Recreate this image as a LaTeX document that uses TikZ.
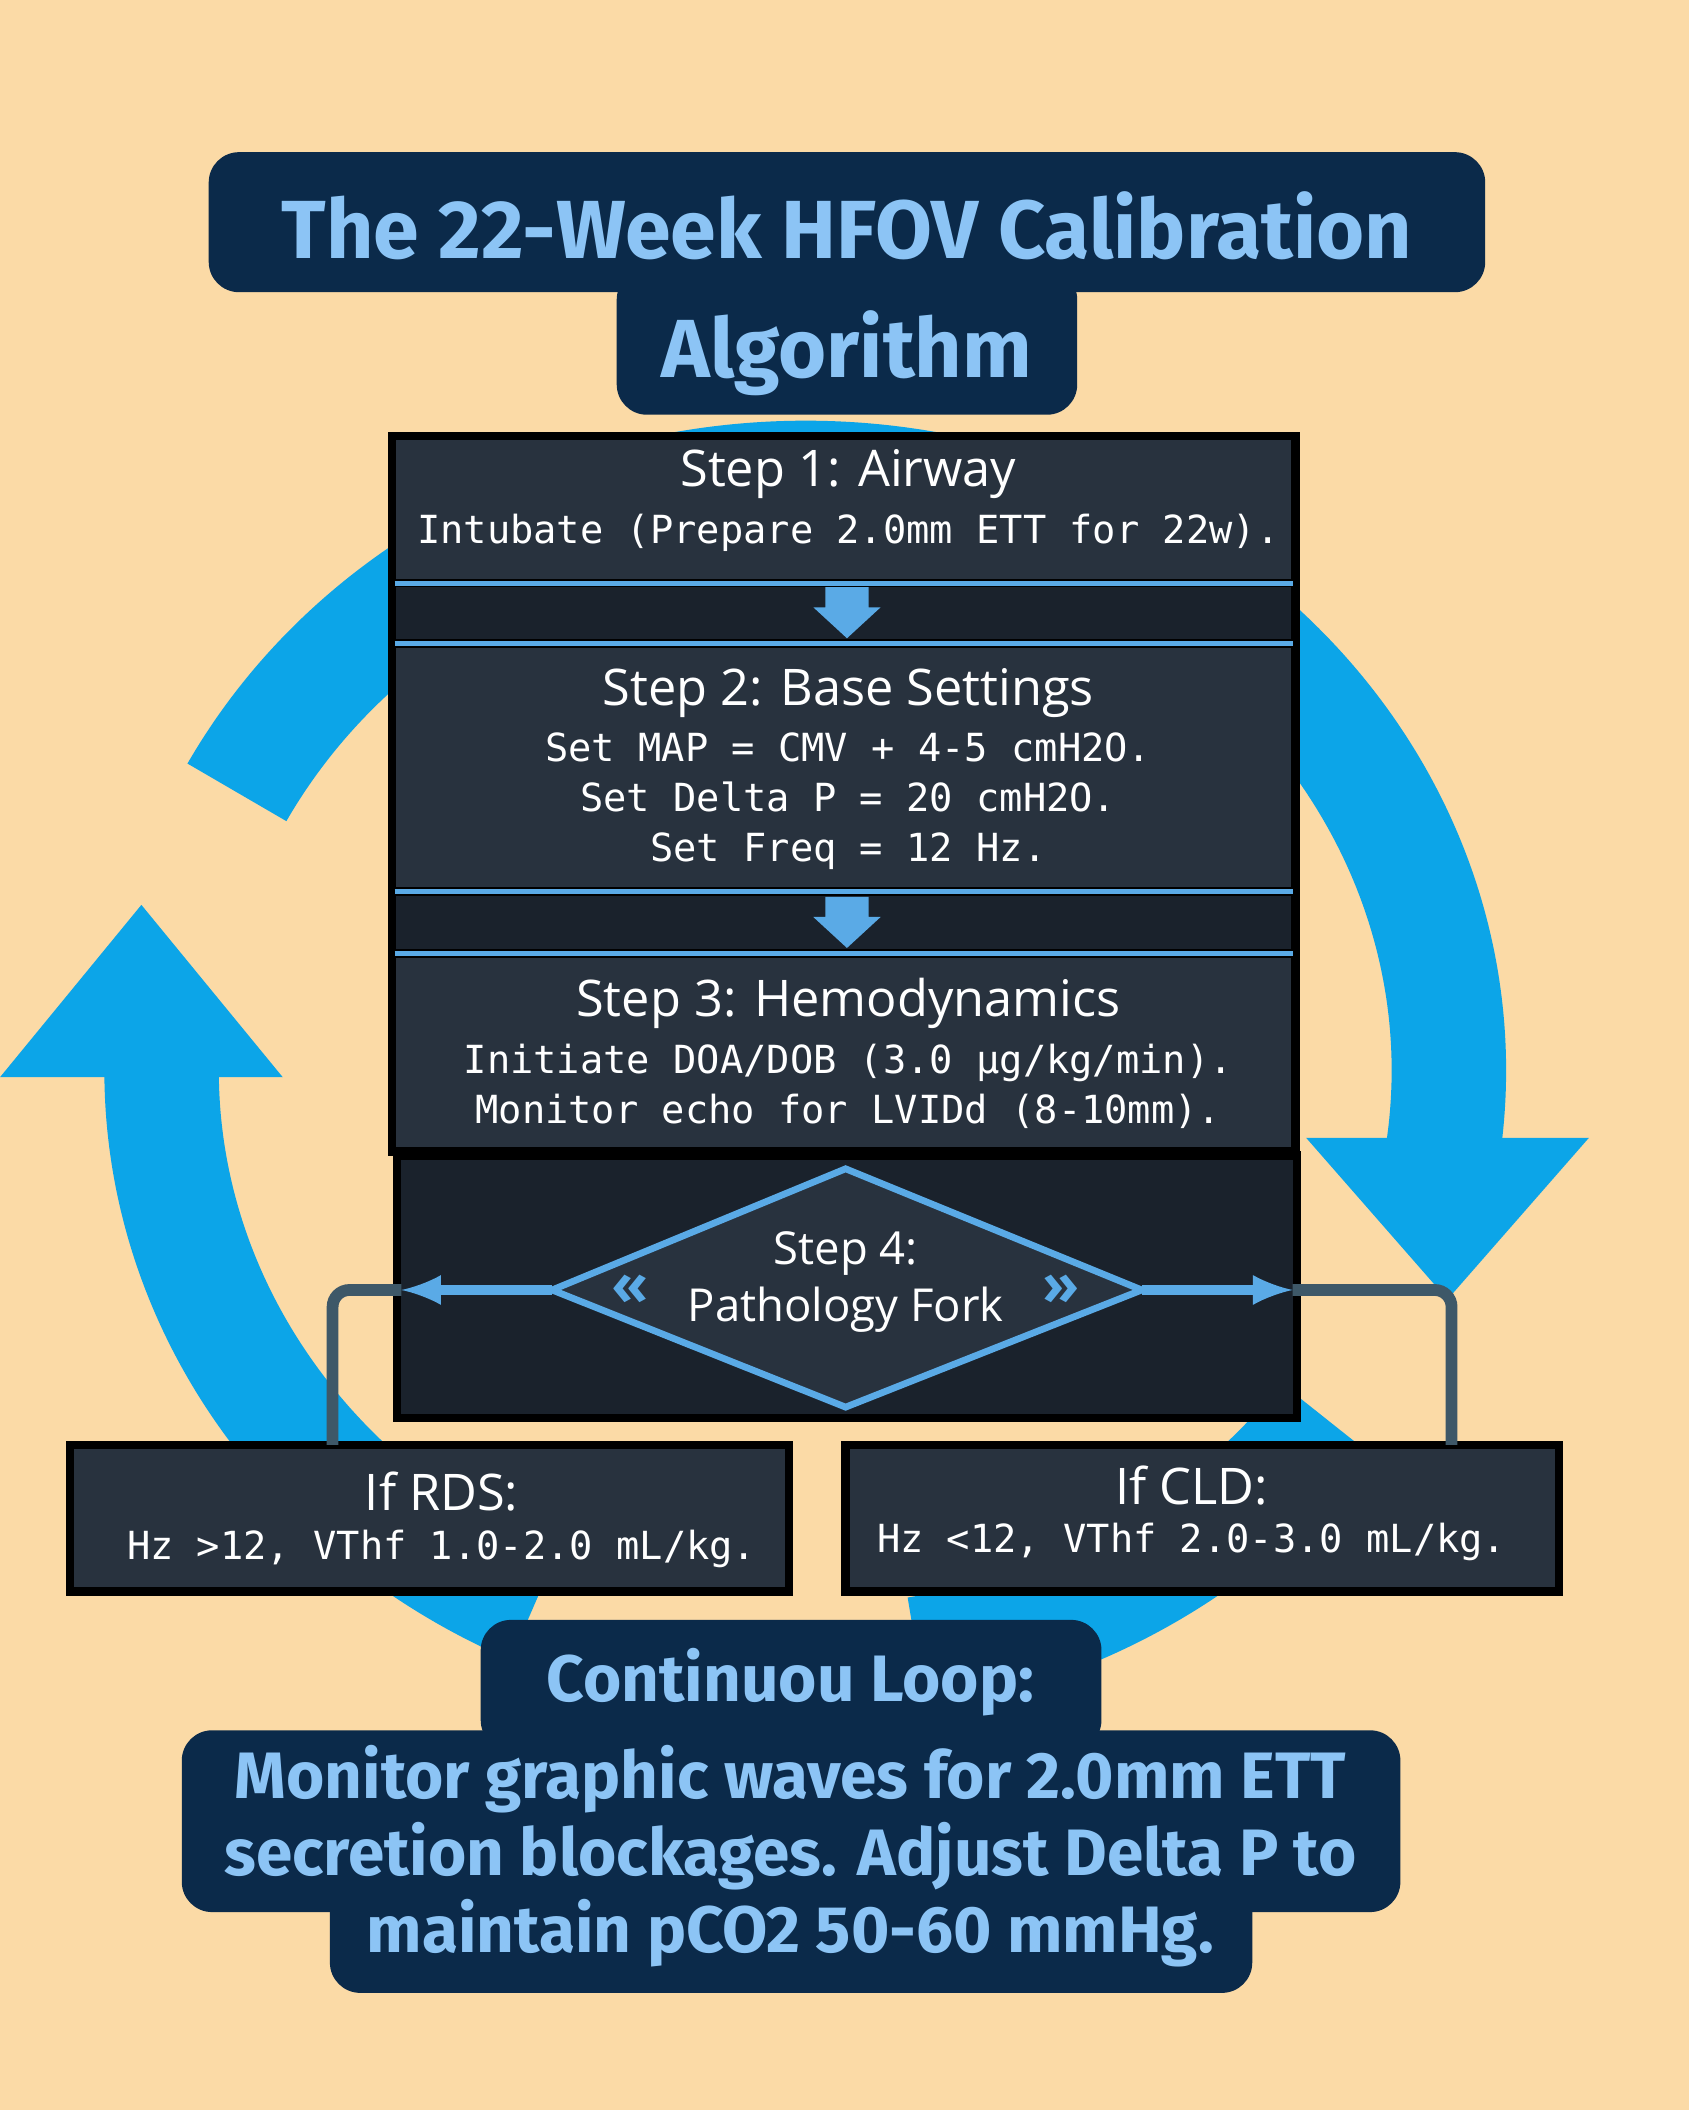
\documentclass[tikz,border=0pt]{standalone}
\usepackage{fontspec}
\setmainfont{Open Sans}
\newfontfamily\titlefont{Fira Sans}
\setmonofont{DejaVu Sans Mono}
\usetikzlibrary{positioning}
\definecolor{peach}{RGB}{251,218,166}
\definecolor{ringblue}{RGB}{12,165,232}
\definecolor{navy}{RGB}{11,42,74}
\definecolor{titleblue}{RGB}{140,196,245}
\definecolor{panel}{RGB}{40,50,62}
\definecolor{band}{RGB}{26,34,44}
\definecolor{edgeblue}{RGB}{90,170,230}
\definecolor{wire}{RGB}{62,88,104}
\tikzset{
  navybox/.style={fill=navy,rounded corners=9pt},
  stepbox/.style={fill=panel,draw=black,line width=2.5},
  head/.style={text=white,font=\fontsize{15}{18}\selectfont},
  body/.style={text=white,font=\ttfamily\fontsize{11.5}{14.8}\selectfont,align=center},
  bigtext/.style={text=titleblue,font=\titlefont\bfseries\fontsize{19.5}{23}\selectfont,align=center},
  ring/.style={ringblue,line width=34}
}
\begin{document}
\begin{tikzpicture}[x=0.4pt,y=0.4pt,yscale=-1]
\useasboundingbox (0,0) rectangle (1254,1567);
\fill[peach] (0,0) rectangle (1254,1567);

% loop ring
\draw[ring] (598,795) ++(208:478 and 440) arc[start angle=208,end angle=368,x radius=478,y radius=440];
\fill[ringblue] (970,845) -- (1180,845) -- (1075,965) -- cycle;
\draw[ring] (598,795) ++(115:478 and 440) arc[start angle=115,end angle=180,x radius=478,y radius=440] -- (120,800);
\fill[ringblue] (0,800) -- (210,800) -- (105,672) -- cycle;
\draw[ring] (598,795) ++(36:478 and 440) arc[start angle=36,end angle=80,x radius=478,y radius=440];

% title
\fill[navybox] (155,113) rectangle (1103,217);
\fill[navybox] (458,200) rectangle (800,308);
\node[text=titleblue,font=\titlefont\bfseries\fontsize{24.5}{29}\selectfont] (title1) at (629,168) {The 22-Week HFOV Calibration};
\node[text=titleblue,font=\titlefont\bfseries\fontsize{24.5}{29}\selectfont] (title2) at (629,262) {Algorithm};

% steps
\fill[band,draw=black,line width=2.5] (291,324) rectangle (962,855);
\draw[stepbox] (291,324) rectangle (962,433);
\draw[stepbox] (291,478) rectangle (962,662);
\draw[stepbox] (291,708) rectangle (962,855);
\foreach \y in {433,478,662,708} \draw[edgeblue,line width=1.5] (293,\y) -- (960,\y);
\foreach \y in {436,666} \fill[edgeblue] (613,\y) -- (645,\y) -- (645,\y+15) -- (654,\y+15) -- (629,\y+38) -- (604,\y+15) -- (613,\y+15) -- cycle;
\node[head] (s1) at (630,352) {Step 1: Airway};
\node[body] (s1b) at (630,396) {Intubate (Prepare 2.0mm ETT for 22w).};
\node[head] (s2) at (630,515) {Step 2: Base Settings};
\node[body] (s2b) at (630,595) {Set MAP = CMV + 4-5 cmH2O.\\Set Delta P = 20 cmH2O.\\Set Freq = 12 Hz.};
\node[head] (s3) at (630,745) {Step 3: Hemodynamics};
\node[body] (s3b) at (630,807) {Initiate DOA/DOB (3.0 \textmu g/kg/min).\\Monitor echo for LVIDd (8-10mm).};

% step 4 fork
\fill[band,draw=black,line width=2.5] (295,858) rectangle (963,1053);
\coordinate (dl) at (410,958);
\coordinate (dr) at (848,958);
\fill[panel,draw=edgeblue,line width=2] (dl) -- (628,868) -- (dr) -- (628,1045) -- cycle;
\node[text=white,font=\fontsize{13.5}{17}\selectfont,align=center] (s4) at (628,952) {Step 4:\\Pathology Fork};
\node[text=edgeblue,font=\bfseries\fontsize{18}{20}\selectfont] at (468,958) {«};
\node[text=edgeblue,font=\bfseries\fontsize{18}{20}\selectfont] at (788,958) {»};
\coordinate (fl) at (298,958);
\coordinate (fr) at (960,958);
\draw[edgeblue,line width=3,-latex] (dl) -- (fl);
\draw[edgeblue,line width=3,-latex] (dr) -- (fr);

% branches
\draw[stepbox] (52,1073) rectangle (586,1182);
\draw[stepbox] (628,1073) rectangle (1158,1182);
\coordinate (rds) at (247,1073);
\coordinate (cld) at (1078,1073);
\draw[wire,line width=3.5,rounded corners=5pt] (fl) -- (247,958) -- (rds);
\draw[wire,line width=3.5,rounded corners=5pt] (fr) -- (1078,958) -- (cld);
\node[head] at (328,1108) {If RDS:};
\node[body] at (328,1150) {Hz >12, VThf 1.0-2.0 mL/kg.};
\node[head] at (885,1103) {If CLD:};
\node[body] at (885,1145) {Hz <12, VThf 2.0-3.0 mL/kg.};

% continuous loop note
\fill[navybox] (357,1203) rectangle (818,1300);
\fill[navybox] (135,1285) rectangle (1040,1420);
\fill[navybox] (245,1390) rectangle (930,1480);
\node[bigtext] (loop) at (587,1249) {Continuou Loop:};
\node[bigtext,below=4 of loop] (note) {Monitor graphic waves for 2.0mm ETT\\secretion blockages. Adjust Delta P to\\maintain pCO2 50-60 mmHg.};
\end{tikzpicture}
\end{document}
